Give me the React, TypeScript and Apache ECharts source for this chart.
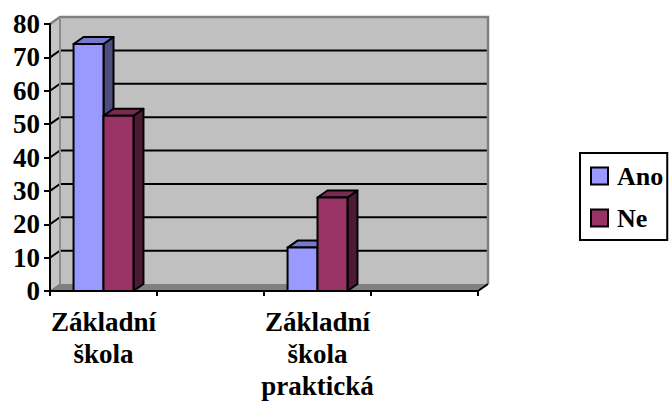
import React, { useEffect, useRef } from "react";
import * as echarts from "echarts";

// ---- data ----
const categories = ["Základní\nškola", "", "Základní\nškola\npraktická", ""];
const seriesNames = ["Ano", "Ne"];
const anoValues: (number | null)[] = [74, null, 13, null];
const neValues: (number | null)[] = [52.5, null, 28, null];
const yTicks = [0, 10, 20, 30, 40, 50, 60, 70, 80];

// ---- style ----
const FONT = "Liberation Serif";
const DX = 10;
const DY = 7;
const FRONT = ["#9999FF", "#993366"];
const TOP = ["#7878CC", "#7A2952"];
const SIDE = ["#4D4D80", "#4D1A33"];

function wallsRender(params: any, api: any) {
  const cs = params.coordSys;
  const x0 = cs.x;
  const x1 = cs.x + cs.width;
  const yTop = cs.y;
  const yBot = cs.y + cs.height;
  const children: any[] = [];
  children.push({
    type: "rect",
    shape: { x: x0 + DX, y: yTop - DY, width: cs.width, height: cs.height },
    style: { fill: "#C0C0C0" },
  });
  children.push({
    type: "polygon",
    shape: { points: [[x0, yTop], [x0 + DX, yTop - DY], [x0 + DX, yBot - DY], [x0, yBot]] },
    style: { fill: "#C4C4C4" },
  });
  children.push({
    type: "polygon",
    shape: { points: [[x0, yBot], [x0 + DX, yBot - DY], [x1 + DX, yBot - DY], [x1, yBot]] },
    style: { fill: "#808080" },
  });
  const lo = yTicks[0];
  const hi = yTicks[yTicks.length - 1];
  yTicks.forEach((v) => {
    if (v === lo || v === hi) return;
    const y = api.coord([0, v])[1];
    children.push({
      type: "polyline",
      shape: { points: [[x0, y], [x0 + DX, y - DY], [x1 + DX, y - DY]] },
      style: { stroke: "#000", lineWidth: 2, fill: "none" },
    });
  });
  children.push({
    type: "polyline",
    shape: { points: [[x0, yTop], [x0 + DX, yTop - DY], [x1 + DX, yTop - DY], [x1 + DX, yBot - DY]] },
    style: { stroke: "#808080", lineWidth: 2.5, fill: "none" },
  });
  children.push({
    type: "line",
    shape: { x1: x0 + DX, y1: yTop - DY, x2: x0 + DX, y2: yBot - DY },
    style: { stroke: "#8C8C8C", lineWidth: 2 },
  });
  children.push({
    type: "line",
    shape: { x1: x0, y1: yBot, x2: x0 + DX, y2: yBot - DY },
    style: { stroke: "#6E6E6E", lineWidth: 1 },
  });
  children.push({
    type: "line",
    shape: { x1: x1, y1: yBot, x2: x1 + DX, y2: yBot - DY },
    style: { stroke: "#000", lineWidth: 2 },
  });
  return { type: "group", children };
}

function makeBarRender(k: number) {
  return (params: any, api: any) => {
    const cat = api.value(0);
    const v = api.value(1);
    const top = api.coord([cat, v]);
    const base = api.coord([cat, 0]);
    const bw = api.size([1, 0])[0];
    const w = bw * 0.28;
    const left = top[0] - w + k * w;
    const right = left + w;
    const ty = top[1];
    const by = base[1];
    const border = { stroke: "#000", lineWidth: 2, lineJoin: "round" };
    return {
      type: "group",
      children: [
        {
          type: "polygon",
          shape: { points: [[right, ty], [right + DX, ty - DY], [right + DX, by - DY], [right, by]] },
          style: { fill: SIDE[k], ...border },
        },
        {
          type: "polygon",
          shape: { points: [[left, ty], [left + DX, ty - DY], [right + DX, ty - DY], [right, ty]] },
          style: { fill: TOP[k], ...border },
        },
        {
          type: "rect",
          shape: { x: left, y: ty, width: w, height: by - ty },
          style: { fill: FRONT[k], ...border },
        },
      ],
    };
  };
}

function toData(vals: (number | null)[]) {
  return vals.map((v, i) => [i, v]).filter((d) => d[1] !== null);
}

export default function App() {
  const ref = useRef<HTMLDivElement>(null);
  useEffect(() => {
    document.body.style.margin = "0";
    if (!ref.current) return;
    const chart = echarts.init(ref.current, null, { renderer: "svg" });
    chart.setOption({
      animation: false,
      backgroundColor: "#fff",
      grid: { left: 50, top: 24, width: 428, height: 267, containLabel: false },
      legend: {
        data: seriesNames,
        orient: "vertical",
        left: 580,
        top: 153,
        icon: "rect",
        itemWidth: 17,
        itemHeight: 17,
        itemGap: 16,
        padding: [10, 4, 9, 10],
        borderColor: "#000",
        borderWidth: 2,
        itemStyle: { borderColor: "#000", borderWidth: 2 },
        textStyle: {
          fontFamily: FONT,
          fontSize: 26,
          fontWeight: "bold",
          color: "#000",
          lineHeight: 26,
          padding: [0, 0, 0, 4],
        },
      },
      xAxis: {
        type: "category",
        data: categories,
        z: 5,
        axisLine: { lineStyle: { color: "#000", width: 2 } },
        axisTick: { show: true, length: 5, interval: 0, lineStyle: { color: "#000", width: 2 } },
        axisLabel: {
          interval: 0,
          fontFamily: FONT,
          fontSize: 27,
          fontWeight: "bold",
          lineHeight: 32,
          margin: 15,
          color: "#000",
        },
        splitLine: { show: false },
      },
      yAxis: {
        type: "value",
        min: 0,
        max: 80,
        interval: 10,
        z: 5,
        axisLine: { show: true, lineStyle: { color: "#000", width: 2 } },
        axisTick: { show: true, length: 6, lineStyle: { color: "#000", width: 2 } },
        axisLabel: {
          fontFamily: FONT,
          fontSize: 27,
          fontWeight: "bold",
          margin: 10,
          color: "#000",
        },
        splitLine: { show: false },
      },
      series: [
        {
          name: seriesNames[0],
          type: "custom",
          z: 3,
          itemStyle: { color: FRONT[0] },
          renderItem: makeBarRender(0),
          encode: { x: 0, y: 1 },
          data: toData(anoValues),
        },
        {
          name: seriesNames[1],
          type: "custom",
          z: 4,
          itemStyle: { color: FRONT[1] },
          renderItem: makeBarRender(1),
          encode: { x: 0, y: 1 },
          data: toData(neValues),
        },
        {
          name: "walls",
          type: "custom",
          z: 1,
          silent: true,
          itemStyle: { color: "#C0C0C0" },
          renderItem: wallsRender,
          encode: { x: 0, y: 1 },
          data: [[0, 0]],
        },
      ],
    });
    return () => chart.dispose();
  }, []);
  return <div ref={ref} style={{ width: 672, height: 410 }} />;
}
